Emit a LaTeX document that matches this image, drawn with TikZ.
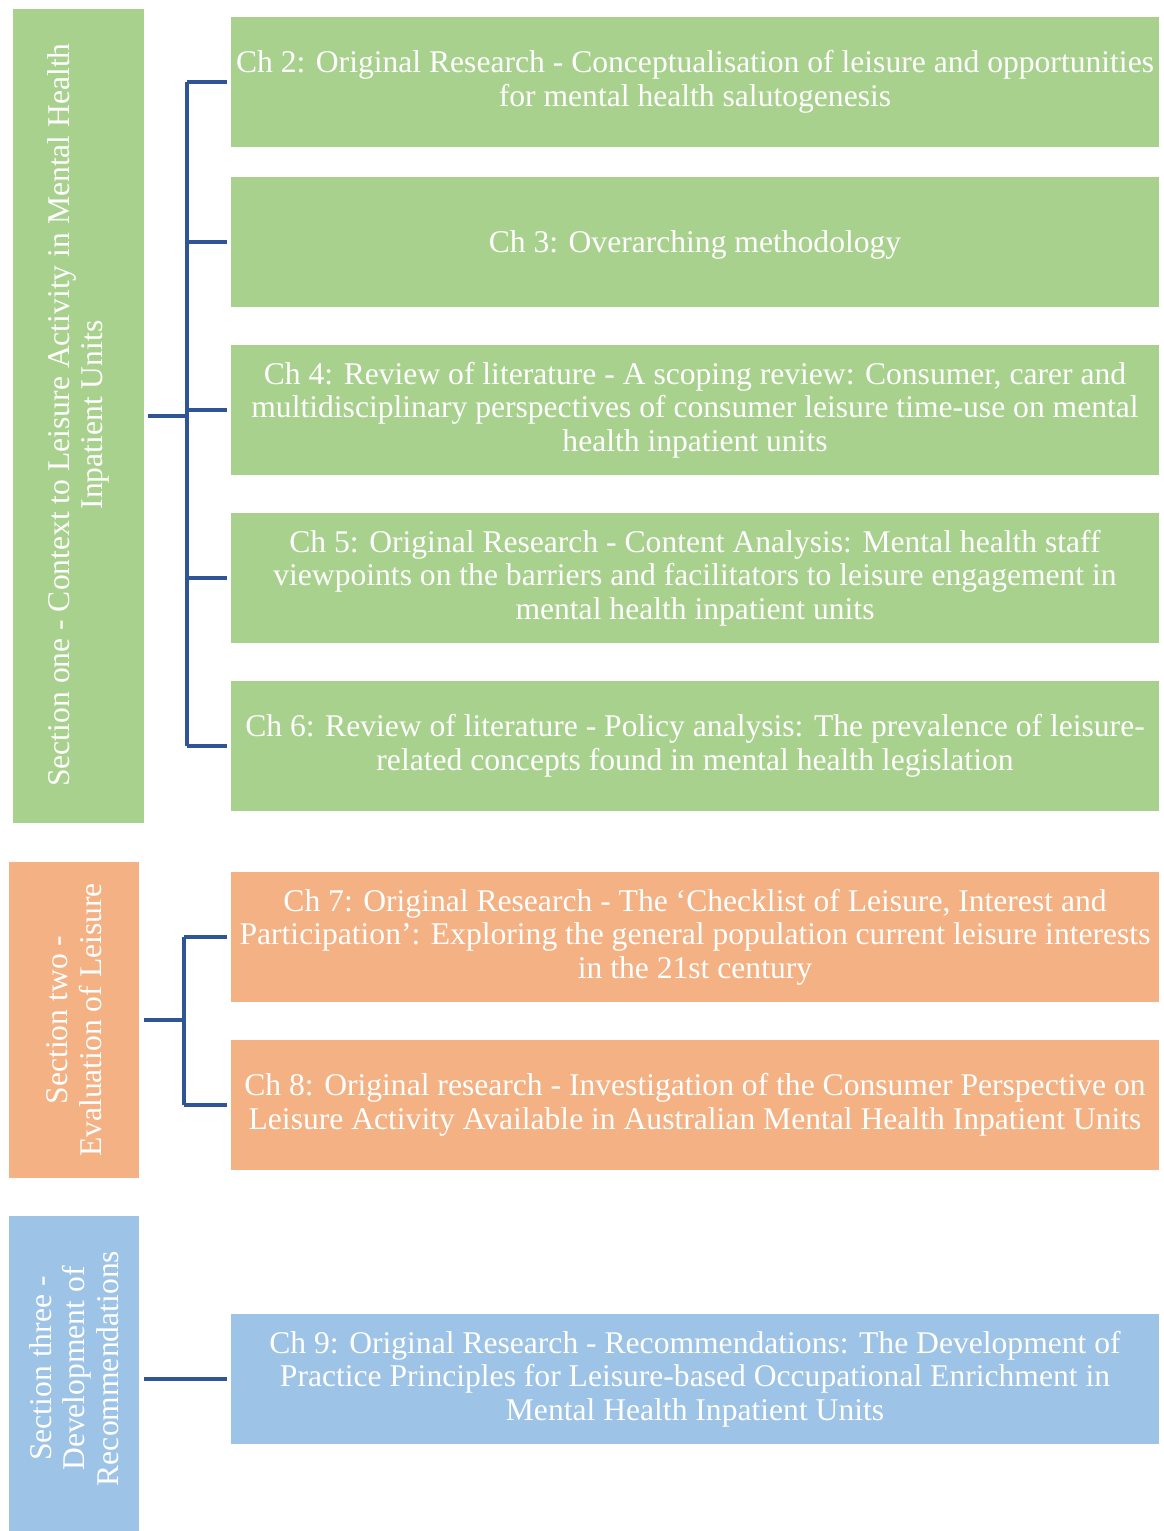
\documentclass[tikz,border=0pt]{standalone}
\usepackage{fontspec}
\setmainfont{Liberation Serif}
\definecolor{secgreen}{HTML}{A9D18E}
\definecolor{secorange}{HTML}{F4B183}
\definecolor{secblue}{HTML}{9DC3E6}
\definecolor{linkblue}{HTML}{2F5597}
\begin{document}
\begin{tikzpicture}[x=1pt,y=-1pt,
  every node/.style={inner sep=0pt, outer sep=0pt, text=white, font=\fontsize{31.6}{33.6}\selectfont, align=center},
  chbox/.style={anchor=north west, minimum width=928pt, minimum height=130pt,
    execute at begin node={\rule{0pt}{28pt}}},
  secbox/.style={anchor=north west, minimum width=130pt},
  seclabel/.style={rotate=90},
  conn/.style={draw=linkblue, line width=3.5pt}]
\useasboundingbox (0,0) rectangle (1163,1531);

% Section one and its chapters
\node[secbox, fill=secgreen, minimum width=131pt, minimum height=814pt] (s1) at (13,9) {};
\node[seclabel] at ([yshift=1pt]s1.center) {Section one - Context to Leisure Activity in Mental Health\\Inpatient Units};
\node[chbox, fill=secgreen] (c2) at (231,17) {Ch 2: Original Research - Conceptualisation of leisure and opportunities\\for mental health salutogenesis};
\node[chbox, fill=secgreen] (c3) at (231,177) {Ch 3: Overarching methodology};
\node[chbox, fill=secgreen] (c4) at (231,345) {Ch 4: Review of literature - A scoping review: Consumer, carer and\\multidisciplinary perspectives of consumer leisure time-use on mental\\health inpatient units};
\node[chbox, fill=secgreen] (c5) at (231,513) {Ch 5: Original Research - Content Analysis: Mental health staff\\viewpoints on the barriers and facilitators to leisure engagement in\\mental health inpatient units};
\node[chbox, fill=secgreen] (c6) at (231,681) {Ch 6: Review of literature - Policy analysis: The prevalence of leisure-\\related concepts found in mental health legislation};

% Section two and its chapters
\node[secbox, fill=secorange, minimum height=316pt] (s2) at (9,862) {};
\node[seclabel] at (s2.center) {Section two -\\Evaluation of Leisure};
\node[chbox, fill=secorange] (c7) at (231,872) {Ch 7: Original Research - The ‘Checklist of Leisure, Interest and\\Participation’: Exploring the general population current leisure interests\\in the 21st century};
\node[chbox, fill=secorange] (c8) at (231,1040) {Ch 8: Original research - Investigation of the Consumer Perspective on\\Leisure Activity Available in Australian Mental Health Inpatient Units};

% Section three and its chapter
\node[secbox, fill=secblue, minimum height=315pt] (s3) at (9,1216) {};
\node[seclabel] at ([yshift=5pt]s3.center) {Section three -\\Development of\\Recommendations};
\node[chbox, fill=secblue] (c9) at (231,1314) {Ch 9: Original Research - Recommendations: The Development of\\Practice Principles for Leisure-based Occupational Enrichment in\\Mental Health Inpatient Units};

% Bracket connectors
\coordinate (b1) at (187,0);
\draw[conn] (b1 |- c2.west) -- (b1 |- c6.west);
\foreach \c in {c2,c3,c4,c5,c6}
  \draw[conn] ([xshift=-4pt]\c.west) -- (b1 |- \c.west);
\draw[conn] ([xshift=4pt]s1.east) -- (b1 |- s1.east);

\coordinate (b2) at (184,0);
\draw[conn] (b2 |- c7.west) -- (b2 |- c8.west);
\foreach \c in {c7,c8}
  \draw[conn] ([xshift=-4pt]\c.west) -- (b2 |- \c.west);
\draw[conn] ([xshift=5pt]s2.east) -- (b2 |- s2.east);

\draw[conn] ([xshift=5pt]s3.east |- c9.west) -- ([xshift=-4pt]c9.west);
\end{tikzpicture}
\end{document}
